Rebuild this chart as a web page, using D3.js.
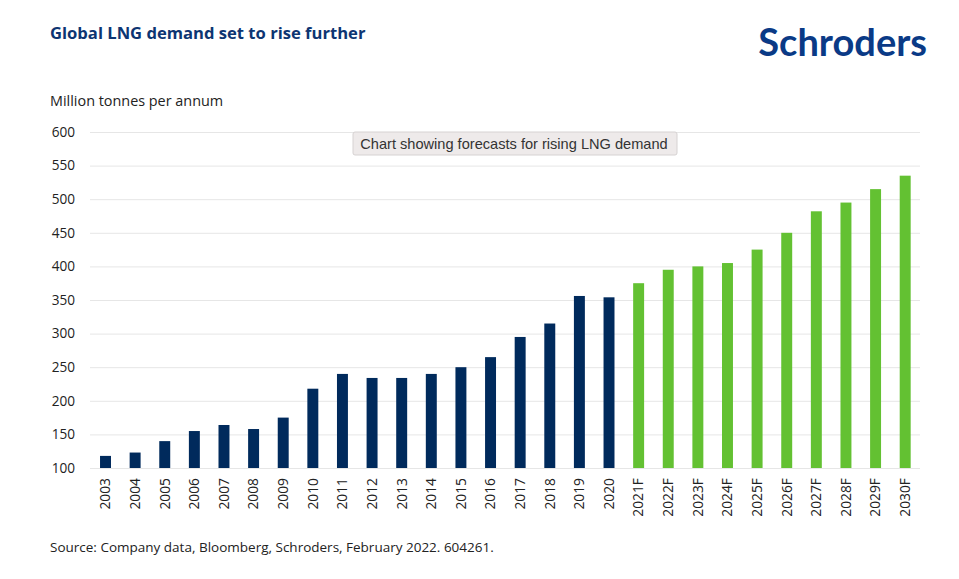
<!DOCTYPE html>
<html>
<head>
<meta charset="utf-8">
<script src="https://cdn.jsdelivr.net/npm/d3@7"></script>
<style>
  body { margin: 0; background: #fff; font-family: "Open Sans", "Noto Sans", sans-serif; }
</style>
</head>
<body>
<div id="chart"></div>
<script>
// Data
var years = ["2003","2004","2005","2006","2007","2008","2009","2010","2011","2012",
  "2013","2014","2015","2016","2017","2018","2019","2020",
  "2021F","2022F","2023F","2024F","2025F","2026F","2027F","2028F","2029F","2030F"];
var demand = [118,123,140,155,164,158,175,218,240,234,
  234,240,250,265,295,315,356,354,
  375,395,400,405,425,450,482,495,515,535];
var yTicks = [100,150,200,250,300,350,400,450,500,550,600];

var W = 959, H = 579;
var margin = {top: 132, right: 39, bottom: 111, left: 90},
    w = W - margin.left - margin.right,
    h = H - margin.top - margin.bottom;

var data = years.map(function (d, i) { return {year: d, value: demand[i]}; });

var svg = d3.select("#chart")
  .append("svg")
  .attr("width", W)
  .attr("height", H);

// Title
svg.append("text")
  .attr("x", 50).attr("y", 39)
  .style("font-size", "16.6px")
  .style("font-weight", "bold")
  .style("fill", "#0d3572")
  .text("Global LNG demand set to rise further");

// Logo
svg.append("text")
  .attr("x", 927).attr("y", 56)
  .attr("text-anchor", "end")
  .style("font-family", "Lato, 'Open Sans', sans-serif")
  .style("font-size", "38px")
  .style("font-weight", "bold")
  .style("fill", "#0a3a86")
  .text("Schroders");

// Unit label
svg.append("text")
  .attr("x", 50).attr("y", 106)
  .style("font-size", "14.4px")
  .style("fill", "#222")
  .text("Million tonnes per annum");

var g = svg.append("g")
  .attr("transform", `translate(${margin.left},${margin.top})`);

var x = d3.scaleBand()
  .domain(years)
  .range([0.7, w])
  .paddingInner(0.63)
  .paddingOuter(0.315);

var y = d3.scaleLinear()
  .domain([100, 600])
  .range([h, 0]);

// Grid lines + y labels
var yAxis = g.append("g")
  .call(d3.axisLeft(y).tickValues(yTicks).tickSize(-w).tickPadding(15));
yAxis.select(".domain").remove();
yAxis.selectAll(".tick line")
  .attr("stroke", "#e6e6e6")
  .attr("stroke-width", 1);
yAxis.selectAll(".tick text")
  .style("font-family", "'Open Sans', sans-serif")
  .style("font-size", "13.6px")
  .style("fill", "#222");

// Bars
g.selectAll(".bar")
  .data(data)
  .enter().append("rect")
  .attr("class", "bar")
  .attr("x", d => x(d.year))
  .attr("width", x.bandwidth())
  .attr("y", d => y(d.value))
  .attr("height", d => h - y(d.value))
  .attr("fill", d => d.year.indexOf("F") >= 0 ? "#63c132" : "#002a5c");

// X axis labels
var xAxis = g.append("g")
  .attr("transform", `translate(0,${h})`)
  .call(d3.axisBottom(x).tickSize(0));
xAxis.select(".domain").remove();
xAxis.selectAll("text")
  .attr("transform", "rotate(-90)")
  .attr("x", -10)
  .attr("y", 0)
  .attr("dy", "0.35em")
  .style("text-anchor", "end")
  .style("font-family", "'Open Sans', sans-serif")
  .style("font-size", "13.8px")
  .style("fill", "#222");

// Source
svg.append("text")
  .attr("x", 50).attr("y", 552)
  .style("font-size", "13.5px")
  .style("fill", "#222")
  .text("Source: Company data, Bloomberg, Schroders, February 2022. 604261.");

// Tooltip-style caption box
var tip = svg.append("g").attr("transform", "translate(353,132)");
tip.append("rect")
  .attr("width", 324).attr("height", 23)
  .attr("rx", 2)
  .attr("fill", "#eeeaea")
  .attr("stroke", "#d6d2d2");
tip.append("text")
  .attr("x", 161).attr("y", 16.5)
  .attr("text-anchor", "middle")
  .style("font-family", "'Liberation Sans', Arial, sans-serif")
  .style("font-size", "14.6px")
  .style("fill", "#333")
  .text("Chart showing forecasts for rising LNG demand");
</script>
</body>
</html>
